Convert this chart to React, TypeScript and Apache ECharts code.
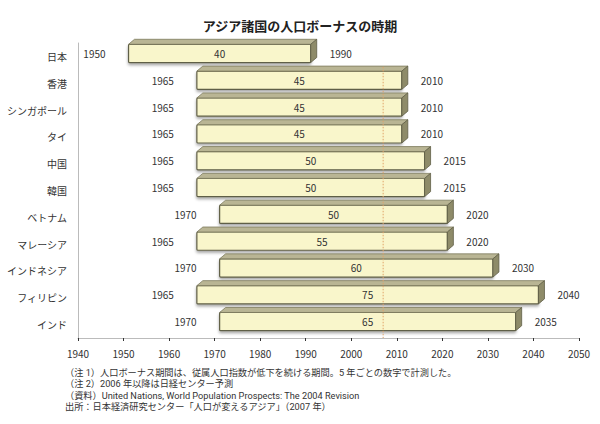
import React, { useEffect, useRef } from "react";
import * as echarts from "echarts";

const countries = [
  "日本",
  "香港",
  "シンガポール",
  "タイ",
  "中国",
  "韓国",
  "ベトナム",
  "マレーシア",
  "インドネシア",
  "フィリピン",
  "インド",
];
const startYears = [1950, 1965, 1965, 1965, 1965, 1965, 1970, 1965, 1970, 1965, 1970];
const endYears = [1990, 2010, 2010, 2010, 2015, 2015, 2020, 2020, 2030, 2040, 2035];
const durations = [40, 45, 45, 45, 50, 50, 50, 55, 60, 75, 65];
const forecastYear = 2007;

const titleText = "アジア諸国の人口ボーナスの時期";
const notes = [
  "（注 1）人口ボーナス期間は、従属人口指数が低下を続ける期間。5 年ごとの数字で計測した。",
  "（注 2）2006 年以降は日経センター予測",
  "（資料）United Nations, World Population Prospects: The 2004 Revision",
  "出所：日本経済研究センター「人口が変えるアジア」（2007 年）",
];

const FONT = '"Noto Sans CJK JP", "Noto Sans", sans-serif';
const NOTE_FONT = 'Roboto, "Noto Sans CJK JP", sans-serif';
const TXT = "#333333";

export default function App() {
  const ref = useRef<HTMLDivElement>(null);

  useEffect(() => {
    if (!ref.current) return;
    const chart = echarts.init(ref.current, null, { renderer: "svg" });

    const barData = countries.map((_, i) => [i, startYears[i], endYears[i], durations[i]]);

    const renderBar = (params: any, api: any) => {
      const idx = api.value(0);
      const s = api.value(1);
      const e = api.value(2);
      const d = api.value(3);
      const ps = api.coord([s, idx]);
      const pe = api.coord([e, idx]);
      const bandH = api.size([0, 1])[1];
      const off = 5;
      const dx = 6;
      const dy = 5;
      const h = bandH * 0.68;
      const yc = ps[1] - 3;
      const yt = yc - h / 2;
      const yb = yc + h / 2;
      const x0 = ps[0] + off;
      const x1 = pe[0] + off;
      return {
        type: "group",
        children: [
          {
            type: "rect",
            shape: { x: x0, y: yt, width: x1 - x0, height: h, r: 1 },
            style: {
              fill: "#f9f6cb",
              stroke: "#5f5e46",
              lineWidth: 1.2,
              shadowColor: "rgba(0,0,0,0.35)",
              shadowBlur: 3,
              shadowOffsetY: 2,
              shadowOffsetX: 0,
            },
          },
          {
            type: "polygon",
            shape: {
              points: [
                [x0, yt],
                [x0 + dx, yt - dy],
                [x1 + dx, yt - dy],
                [x1, yt],
              ],
            },
            style: { fill: "#b9b594", stroke: "#7c7a5c", lineWidth: 0.8 },
          },
          {
            type: "polygon",
            shape: {
              points: [
                [x1, yt],
                [x1 + dx, yt - dy],
                [x1 + dx, yb - dy],
                [x1, yb],
              ],
            },
            style: { fill: "#8e8b69", stroke: "#5f5e46", lineWidth: 0.8 },
          },
          {
            type: "text",
            style: {
              text: String(d),
              x: (x0 + x1) / 2,
              y: yc,
              align: "center",
              verticalAlign: "middle",
              fill: TXT,
              fontSize: 10,
              fontFamily: FONT,
            },
          },
          {
            type: "text",
            style: {
              text: String(s),
              x: ps[0] - 18,
              y: yc,
              align: "right",
              verticalAlign: "middle",
              fill: TXT,
              fontSize: 10,
              fontFamily: FONT,
            },
          },
          {
            type: "text",
            style: {
              text: String(e),
              x: pe[0] + 24,
              y: yc,
              align: "left",
              verticalAlign: "middle",
              fill: TXT,
              fontSize: 10,
              fontFamily: FONT,
            },
          },
        ],
      };
    };

    const renderLine = (params: any, api: any) => {
      const yr = api.value(0);
      const p = api.coord([yr, 1]);
      const bandH = api.size([0, 1])[1];
      const cs = params.coordSys;
      return {
        type: "line",
        shape: { x1: p[0], y1: p[1] - bandH / 2 - 3, x2: p[0], y2: cs.y + cs.height },
        style: { stroke: "#e0a468", lineWidth: 1, lineDash: [1.5, 1.5] },
      };
    };

    chart.setOption({
      animation: false,
      title: {
        text: titleText,
        left: "center",
        top: 14,
        textStyle: { fontSize: 13, fontWeight: "bold", color: "#222", fontFamily: FONT },
      },
      grid: { left: 78, right: 21, top: 43, bottom: 86, containLabel: false },
      xAxis: {
        type: "value",
        min: 1940,
        max: 2050,
        interval: 10,
        splitLine: { show: false },
        axisLine: { show: true, lineStyle: { color: "#bbbbbb", width: 1 } },
        axisTick: { show: true, length: 3, lineStyle: { color: "#333" } },
        axisLabel: {
          margin: 10,
          fontSize: 10,
          color: TXT,
          fontFamily: FONT,
          formatter: (v: number) => String(v),
        },
      },
      yAxis: {
        type: "category",
        data: countries,
        inverse: true,
        axisLine: { show: true, lineStyle: { color: "#bbbbbb", width: 1 } },
        axisTick: { show: false },
        axisLabel: { margin: 11, fontSize: 10, color: TXT, fontFamily: FONT },
      },
      series: [
        {
          type: "custom",
          renderItem: renderBar,
          encode: { x: [1, 2], y: 0 },
          data: barData,
          z: 2,
        },
        {
          type: "custom",
          renderItem: renderLine,
          encode: { x: 0 },
          data: [[forecastYear]],
          z: 5,
        },
      ],
      graphic: notes.map((t, i) => ({
        type: "text",
        left: 65,
        top: 366.5 + i * 11.5,
        style: {
          text: t,
          fontSize: 9.2,
          lineHeight: 11,
          fill: TXT,
          fontFamily: NOTE_FONT,
        },
      })),
    });

    return () => chart.dispose();
  }, []);

  return (
    <div
      ref={ref}
      style={{ position: "fixed", left: 0, top: 0, width: 600, height: 424, background: "#fff" }}
    />
  );
}
